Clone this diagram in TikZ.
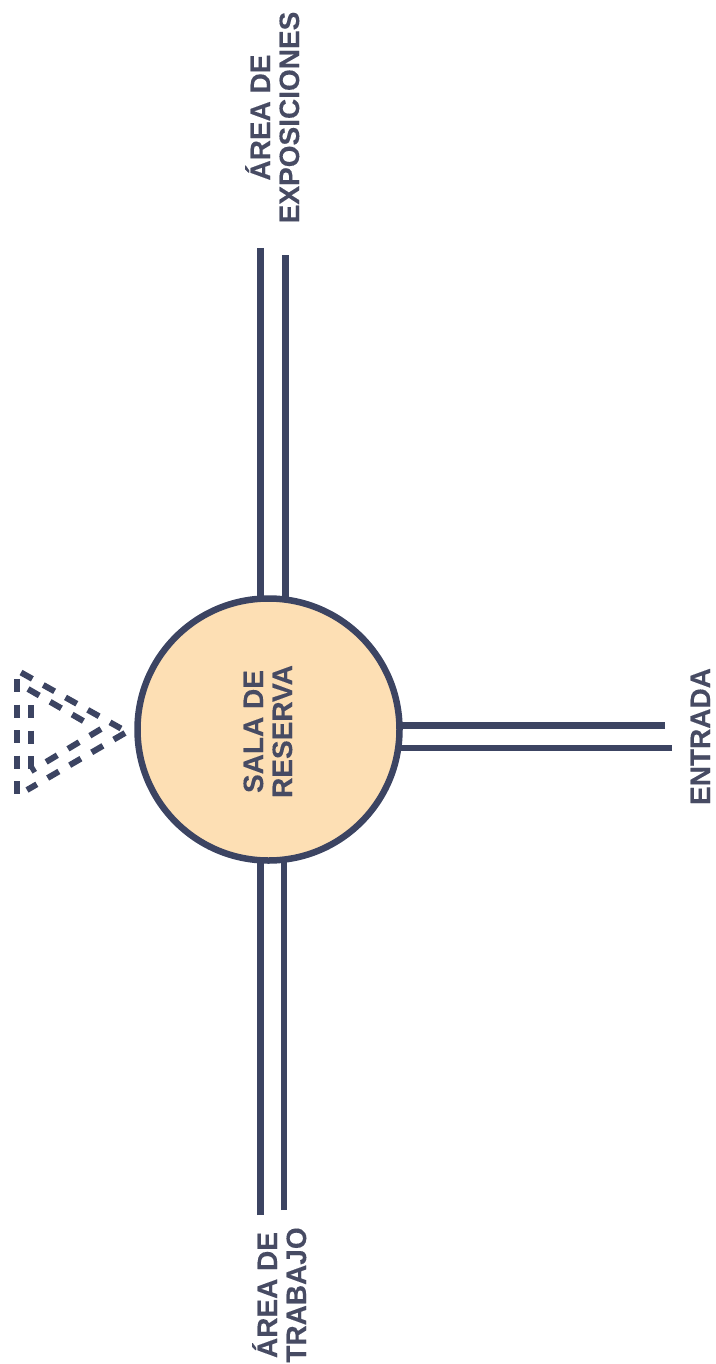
\documentclass[tikz,border=0pt]{standalone}
\usepackage{fontspec}
\setmainfont{Liberation Sans}[BoldFeatures={FakeBold=0.25}]
\usetikzlibrary{backgrounds}
\definecolor{ink}{HTML}{3C4462}
\definecolor{txt}{HTML}{474B63}
\definecolor{peach}{HTML}{FDDFB4}
\tikzset{
  wall/.style={draw=ink,line width=6.5pt},
  dashwall/.style={draw=ink,line width=6pt,dash pattern=on 13pt off 12.5pt},
  room/.style={circle,draw=ink,fill=peach,line width=6.5pt,minimum size=262pt,inner sep=0pt,outer sep=0pt},
  lbl/.style={text=txt,font=\bfseries\fontsize{28}{29}\selectfont,rotate=90,align=center,anchor=base,inner sep=0pt,outer sep=0pt}
}
\begin{document}
\begin{tikzpicture}[x=1pt,y=-1pt]
\useasboundingbox (0,0) rectangle (715,1364);
\node[room] (c) at (268.5,729.5) {};
\node[lbl] (sala) at (292,731.5) {SALA DE\\RESERVA};
\node[lbl] (expo) at (299,117.5) {ÁREA DE\\EXPOSICIONES};
\node[lbl] (trab) at (306,1295) {ÁREA DE\\TRABAJO};
\node[lbl] (entr) at (710,736.5) {ENTRADA};
\coordinate (t1) at (260.5,248);
\coordinate (t2) at (285.3,255);
\coordinate (b1) at (260.5,1215);
\coordinate (b2) at (284,1210);
\coordinate (r1) at (665,725.3);
\coordinate (r2) at (672,748);
\begin{scope}[on background layer]
\draw[wall] (t1) -- (t1 |- c.center);
\draw[wall] (t2) -- (t2 |- c.center);
\draw[wall] (b1) -- (b1 |- c.center);
\draw[wall] (b2) -- (b2 |- c.center);
\draw[wall] (r1) -- (r1 -| c.center);
\draw[wall] (r2) -- (r2 -| c.center);
\end{scope}
% dashed cones
\draw[dashwall] (17,679) -- (17,795);
\draw[dashwall] (21,672.5) -- (121,728.5);
\draw[dashwall] (125,733) -- (27,790);
\draw[dashwall] (30.7,705) -- (30.7,773);
\draw[dashwall] (28,689) -- (92,726);
\draw[dashwall] (101,729) -- (31,771);
\end{tikzpicture}
\end{document}
